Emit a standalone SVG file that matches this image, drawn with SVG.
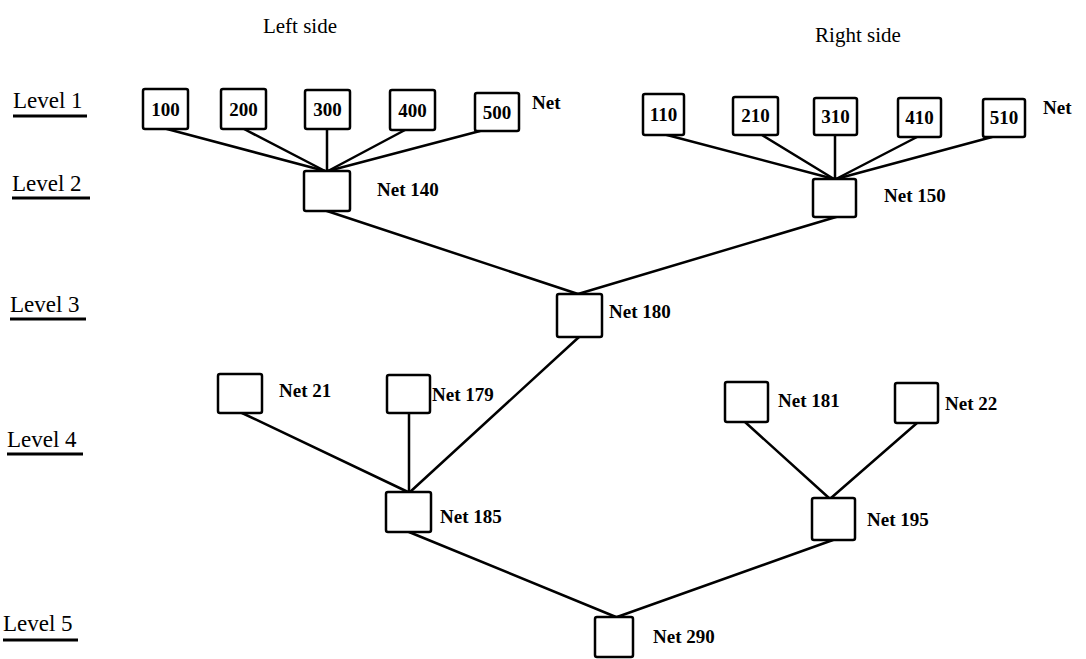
<svg xmlns="http://www.w3.org/2000/svg" width="1086" height="659" viewBox="0 0 1086 659">
<style>
.bx{fill:#fff;stroke:#000;stroke-width:2.5;}
.ln{stroke:#000;stroke-width:2.5;fill:none;stroke-linecap:round;}
.ul{stroke:#000;stroke-width:3;}
.t{font-family:"Liberation Serif","Times New Roman",serif;fill:#000;}
.lvl{font-size:23px;}
.hd{font-size:21px;}
.nl{font-size:19px;font-weight:bold;}
.num{font-size:19px;font-weight:bold;text-anchor:middle;}
</style>
<rect width="1086" height="659" fill="#fff"/>
<g id="titles">
<text class="t hd" x="300" y="33" text-anchor="middle">Left side</text>
<text class="t hd" x="858" y="42" text-anchor="middle">Right side</text>
</g>
<g id="levels">
<text class="t lvl" x="13" y="108">Level 1</text><line class="ul" x1="13" y1="116" x2="87" y2="116"/>
<text class="t lvl" x="12" y="191">Level 2</text><line class="ul" x1="12" y1="198" x2="90" y2="198"/>
<text class="t lvl" x="10" y="312">Level 3</text><line class="ul" x1="10" y1="319" x2="86" y2="319"/>
<text class="t lvl" x="7" y="447">Level 4</text><line class="ul" x1="7" y1="454" x2="83" y2="454"/>
<text class="t lvl" x="3" y="631">Level 5</text><line class="ul" x1="3" y1="640" x2="78" y2="640"/>
</g>
<g id="connectors">
<line class="ln" x1="167" y1="129" x2="325" y2="171"/>
<line class="ln" x1="244" y1="129" x2="325" y2="171"/>
<line class="ln" x1="327" y1="129" x2="327" y2="171"/>
<line class="ln" x1="405" y1="130" x2="328" y2="171"/>
<line class="ln" x1="480" y1="131" x2="328" y2="171"/>
<line class="ln" x1="667" y1="135" x2="834" y2="179"/>
<line class="ln" x1="762" y1="135" x2="834" y2="179"/>
<line class="ln" x1="835" y1="135" x2="835" y2="179"/>
<line class="ln" x1="917" y1="137" x2="836" y2="179"/>
<line class="ln" x1="992" y1="137" x2="836" y2="179"/>
<line class="ln" x1="327" y1="211" x2="578" y2="294"/>
<line class="ln" x1="836" y1="217" x2="578" y2="294"/>
<line class="ln" x1="579" y1="337" x2="410" y2="492"/>
<line class="ln" x1="242" y1="413" x2="408" y2="492"/>
<line class="ln" x1="409" y1="413" x2="409" y2="492"/>
<line class="ln" x1="745" y1="422" x2="829" y2="498"/>
<line class="ln" x1="917" y1="423" x2="831" y2="498"/>
<line class="ln" x1="409" y1="532" x2="616" y2="617"/>
<line class="ln" x1="833" y1="540" x2="617" y2="617"/>
</g>
<g id="n100"><rect class="bx" x="143" y="89" width="45" height="40" rx="2"/><text class="t num" x="165.5" y="116">100</text></g>
<g id="n200"><rect class="bx" x="221" y="89" width="45" height="40" rx="2"/><text class="t num" x="243.5" y="116">200</text></g>
<g id="n300"><rect class="bx" x="305" y="90" width="45" height="39" rx="2"/><text class="t num" x="327.5" y="116">300</text></g>
<g id="n400"><rect class="bx" x="390" y="90" width="45" height="40" rx="2"/><text class="t num" x="412.5" y="117">400</text></g>
<g id="n500"><rect class="bx" x="475" y="93" width="44" height="38" rx="2"/><text class="t num" x="497" y="119">500</text></g>
<g id="netL"><text class="t nl" x="532" y="109">Net</text></g>
<g id="n110"><rect class="bx" x="643" y="94" width="41" height="41" rx="2"/><text class="t num" x="663.5" y="121">110</text></g>
<g id="n210"><rect class="bx" x="733" y="97" width="45" height="38" rx="2"/><text class="t num" x="755.5" y="122">210</text></g>
<g id="n310"><rect class="bx" x="814" y="98" width="43" height="37" rx="2"/><text class="t num" x="835.5" y="123">310</text></g>
<g id="n410"><rect class="bx" x="898" y="98" width="43" height="39" rx="2"/><text class="t num" x="919.5" y="124">410</text></g>
<g id="n510"><rect class="bx" x="983" y="99" width="42" height="38" rx="2"/><text class="t num" x="1004" y="124">510</text></g>
<g id="netR"><text class="t nl" x="1043" y="114">Net</text></g>
<g id="n140"><rect class="bx" x="304" y="171" width="46" height="40" rx="2"/><text class="t nl" x="377" y="196">Net 140</text></g>
<g id="n150"><rect class="bx" x="813" y="179" width="43" height="38" rx="2"/><text class="t nl" x="884" y="202">Net 150</text></g>
<g id="n180"><rect class="bx" x="557" y="294" width="45" height="43" rx="2"/><text class="t nl" x="609" y="318">Net 180</text></g>
<g id="n21"><rect class="bx" x="218" y="374" width="44" height="39" rx="2"/><text class="t nl" x="279" y="397">Net 21</text></g>
<g id="n179"><rect class="bx" x="387" y="375" width="43" height="38" rx="2"/><text class="t nl" x="432" y="401">Net 179</text></g>
<g id="n181"><rect class="bx" x="725" y="382" width="43" height="40" rx="2"/><text class="t nl" x="778" y="407">Net 181</text></g>
<g id="n22"><rect class="bx" x="895" y="383" width="43" height="40" rx="2"/><text class="t nl" x="945" y="410">Net 22</text></g>
<g id="n185"><rect class="bx" x="386" y="492" width="45" height="40" rx="2"/><text class="t nl" x="440" y="523">Net 185</text></g>
<g id="n195"><rect class="bx" x="812" y="498" width="43" height="42" rx="2"/><text class="t nl" x="867" y="526">Net 195</text></g>
<g id="n290"><rect class="bx" x="595" y="617" width="38" height="40" rx="2"/><text class="t nl" x="653" y="643">Net 290</text></g>
</svg>
